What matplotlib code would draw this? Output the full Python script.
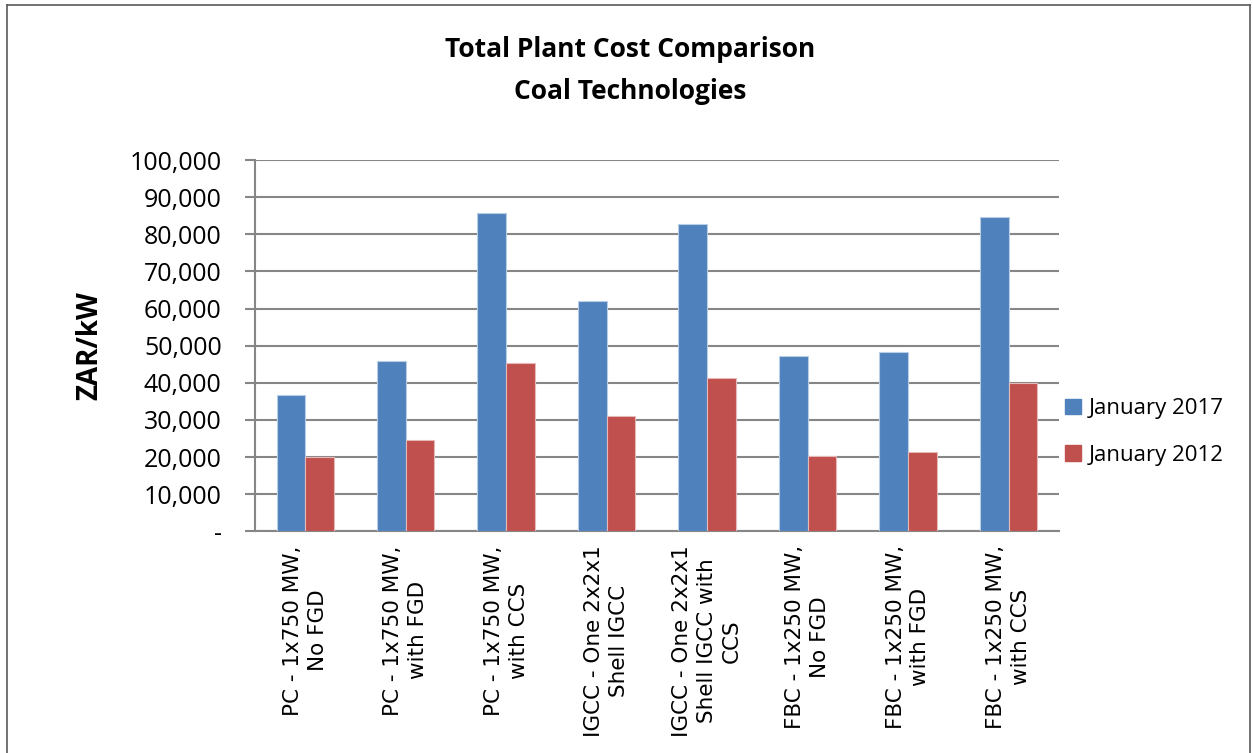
import numpy as np
import matplotlib
matplotlib.use("Agg")
import matplotlib.pyplot as plt
from matplotlib.ticker import FuncFormatter, MultipleLocator
from matplotlib.lines import Line2D
from matplotlib.patches import Patch

# Data
categories = [
    "PC - 1x750 MW,\nNo FGD",
    "PC - 1x750 MW,\nwith FGD",
    "PC - 1x750 MW,\nwith CCS",
    "IGCC - One 2x2x1\nShell IGCC",
    "IGCC - One 2x2x1\nShell IGCC with\nCCS",
    "FBC - 1x250 MW,\nNo FGD",
    "FBC - 1x250 MW,\nwith FGD",
    "FBC - 1x250 MW,\nwith CCS",
]
jan_2017 = [36700, 45900, 85600, 61900, 82800, 47200, 48200, 84600]
jan_2012 = [20000, 24700, 45200, 31000, 41400, 20300, 21300, 39900]
series_names = ["January 2017", "January 2012"]

blue = "#4F81BD"
red = "#C0504D"
grid_col = "#868686"


def fmt(v, pos):
    if v == 0:
        return "-"
    return f"{int(v):,}"


fig = plt.figure(figsize=(12.53, 7.53), dpi=100)
ax = fig.add_axes([0.2035, 0.2944, 0.6415, 0.4931])

x = np.arange(len(categories))
w = 1 / 3.5
ax.bar(x - w / 2, jan_2017, w, color=blue, edgecolor="#B9CDE5", linewidth=0.8, zorder=3)
ax.bar(x + w / 2, jan_2012, w, color=red, edgecolor="#E6B9B8", linewidth=0.8, zorder=3)

ax.set_xlim(-0.5, len(categories) - 0.5)
ax.set_ylim(0, 100000)
ax.yaxis.set_major_locator(MultipleLocator(10000))
ax.yaxis.set_major_formatter(FuncFormatter(fmt))
ax.grid(axis="y", color=grid_col, linewidth=1.5, zorder=0)

for s in ["top", "right"]:
    ax.spines[s].set_visible(False)
ax.spines["left"].set_color(grid_col)
ax.spines["left"].set_linewidth(1.5)
ax.spines["bottom"].set_color(grid_col)
ax.spines["bottom"].set_linewidth(1.5)
ax.tick_params(axis="y", direction="out", length=7, width=1.5, color=grid_col,
               labelsize=18, pad=17)
ax.tick_params(axis="x", length=0, pad=10)
for t in ax.get_yticklabels():
    t.set_fontfamily("Open Sans")

ax.set_xticks(x)
ax.set_xticklabels(categories, rotation=90, ha="center", va="top",
                   multialignment="center", fontsize=15.5, fontfamily="DejaVu Sans",
                   linespacing=1.3)

ax.set_ylabel("ZAR/kW", fontsize=20, fontweight="bold", fontfamily="Open Sans", labelpad=18)

fig.text(0.503, 0.952, "Total Plant Cost Comparison\nCoal Technologies", ha="center", va="top",
         fontsize=19, fontweight="bold", fontfamily="Open Sans", linespacing=1.7)

handles = [Patch(color=blue), Patch(color=red)]
fig.legend(handles, series_names, loc="center left", bbox_to_anchor=(0.834, 0.426),
           frameon=False, prop={"family": "Open Sans", "size": 16},
           handlelength=0.7, handleheight=0.7, handletextpad=0.35, labelspacing=1.15)

# outer chart border
border = dict(color="#5a5a5a", linewidth=1.2, transform=fig.transFigure)
fig.add_artist(Line2D([0.0056, 0.0056], [0, 0.9934], **border))
fig.add_artist(Line2D([0.0056, 0.9976], [0.9934, 0.9934], **border))
fig.add_artist(Line2D([0.9976, 0.9976], [0, 0.9934], **border))

fig.savefig("out.png", dpi=100)
